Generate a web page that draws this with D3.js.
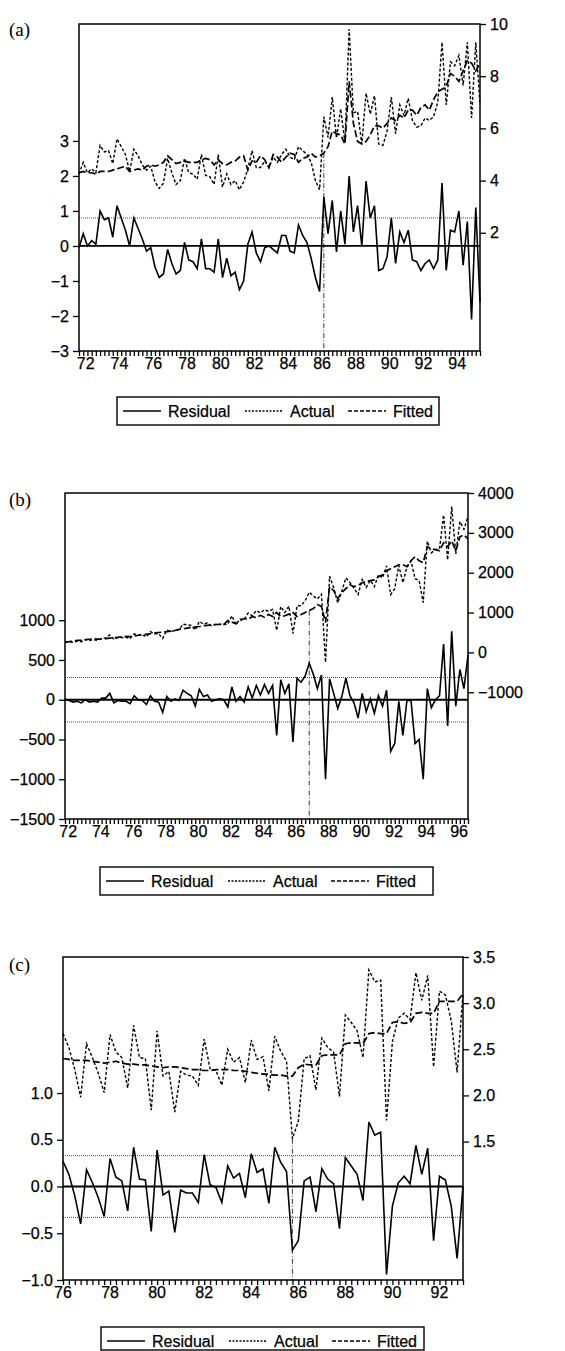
<!DOCTYPE html>
<html>
<head>
<meta charset="utf-8">
<script src="https://cdn.jsdelivr.net/npm/d3@7"></script>
<style>
  body { margin: 0; background: #fff; }
  svg text { font-family: "Liberation Sans", Arial, sans-serif; fill: #000; stroke: #000; stroke-width: 0.25px; }
  .tag { font-family: "Liberation Serif", "Times New Roman", serif; stroke-width: 0; }
</style>
</head>
<body>
<svg id="chart" width="565" height="1351"></svg>
<script>
// ---- data (quarterly) ----
// (a) 1972Q1 - 1995Q4
const residA = [-0.05,0.35,0.0,0.15,0.05,1.0,0.75,0.8,0.25,1.15,
  0.8,0.45,0.0,0.8,0.5,0.2,-0.15,-0.05,-0.6,-0.9,
  -0.8,-0.1,-0.5,-0.8,-0.7,0.1,-0.4,-0.45,-0.65,0.2,
  -0.65,-0.65,-0.75,0.2,-0.9,-0.35,-0.85,-0.75,-1.25,-1.0,
  0.05,0.4,-0.2,-0.45,-0.05,0.0,-0.1,-0.2,0.3,0.3,
  -0.15,-0.2,0.6,0.3,0.1,-0.35,-0.9,-1.3,1.4,0.35,
  1.3,-0.17,1.0,0.05,2.0,0.4,1.15,0.0,1.85,0.8,
  1.15,-0.7,-0.65,-0.3,0.8,-0.5,0.4,0.1,0.45,-0.4,
  -0.45,-0.7,-0.5,-0.4,-0.65,-0.4,1.8,-0.7,0.45,0.4,
  1.0,-0.55,0.7,-2.1,1.1,-1.6];
const actualA = [4.25,4.70,4.30,4.45,4.30,5.35,5.10,5.15,4.65,5.60,
  5.30,5.00,4.35,5.20,4.95,4.60,4.40,4.55,3.95,3.70,
  3.90,4.85,4.30,3.85,4.00,4.85,4.30,4.25,4.05,5.00,
  4.20,4.15,3.85,5.00,3.75,4.25,3.85,4.00,3.65,3.95,
  4.45,5.15,4.50,4.50,4.75,4.50,4.90,4.70,5.00,5.20,
  4.90,4.80,5.30,5.15,5.00,4.70,4.00,3.65,6.45,5.65,
  7.20,5.63,6.75,5.45,9.80,6.60,6.65,5.40,7.35,6.55,
  7.25,5.40,5.35,5.90,7.20,5.80,6.90,6.50,7.15,6.30,
  6.05,6.10,6.40,6.30,6.45,7.00,9.30,6.90,8.55,8.40,
  8.80,7.65,9.30,6.40,9.30,6.90];
const fittedA = [4.30,4.35,4.30,4.30,4.25,4.35,4.35,4.35,4.40,4.45,
  4.50,4.55,4.35,4.40,4.45,4.40,4.55,4.60,4.55,4.60,
  4.70,4.95,4.80,4.65,4.70,4.75,4.70,4.70,4.70,4.80,
  4.85,4.80,4.60,4.80,4.65,4.60,4.70,4.75,4.90,4.95,
  4.40,4.75,4.70,4.95,4.80,4.50,5.00,4.90,4.70,4.90,
  5.05,5.00,4.70,4.85,4.90,5.05,4.90,4.95,5.05,5.30,
  5.90,5.80,5.75,5.40,7.80,6.20,5.50,5.40,5.50,5.75,
  6.10,6.10,6.00,6.20,6.40,6.30,6.50,6.40,6.70,6.70,
  6.50,6.80,6.90,6.70,7.10,7.40,7.50,7.60,8.10,8.00,
  7.80,8.20,8.60,8.50,8.20,8.50];

// (b) 1972Q1 - 1996Q4
const residB = [10,-10,-30,-20,-40,0,-30,-20,-30,20,
  20,80,-40,-10,-20,-20,-50,50,0,-10,
  -60,50,-20,-30,-160,40,-20,10,-10,120,
  80,50,-80,130,40,60,-20,0,10,0,
  -90,160,-20,40,-30,160,20,180,60,190,
  80,180,-450,250,80,200,-530,270,220,300,
  460,320,140,310,-1000,260,80,-110,40,270,
  50,-40,-230,80,-150,10,-170,50,-80,120,
  -650,-550,-20,-450,-10,-10,-550,-500,-1000,140,
  -100,0,50,700,-330,860,-80,380,140,560];
const actualB = [270,260,255,280,265,320,300,320,305,350,
  365,440,330,370,370,380,345,465,430,440,
  395,520,470,470,350,560,515,560,570,710,
  690,680,560,780,710,740,670,700,710,700,
  710,920,700,840,820,990,920,1050,990,1070,
  1030,1080,550,1150,1000,1160,470,1170,1170,1300,
  1510,1420,1340,1460,-250,1910,1630,1240,1540,1870,
  1750,1610,1450,1830,1630,1810,1650,1950,1870,2170,
  1450,1600,2180,1750,2140,2290,1850,1800,1250,2790,
  2500,2580,2600,3450,2320,3660,2470,3280,3090,3410];
const fittedB = [260,270,285,300,305,320,330,340,335,330,
  345,360,370,380,390,400,395,415,430,450,
  455,470,490,500,510,520,535,550,580,590,
  610,630,640,650,670,680,690,700,700,700,
  800,760,720,800,850,830,900,870,930,880,
  950,900,1000,900,920,960,1000,900,950,1000,
  1050,1100,1200,1150,750,1650,1550,1350,1500,1600,
  1700,1650,1680,1750,1780,1800,1820,1900,1950,2050,
  2100,2150,2200,2200,2150,2300,2400,2300,2250,2650,
  2600,2580,2550,2750,2650,2800,2550,2900,2950,2850];

// (c) 1976Q1 - 1993Q1
const residC = [0.27,0.13,-0.10,-0.40,0.18,0.04,-0.12,-0.32,0.30,0.10,
  0.06,-0.26,0.42,0.08,0.07,-0.48,0.39,-0.09,-0.05,-0.49,
  -0.04,-0.07,-0.07,-0.17,0.34,0.02,-0.01,-0.17,0.22,0.09,
  0.14,-0.12,0.35,0.15,0.19,-0.18,0.42,0.26,0.16,-0.68,
  -0.58,0.06,0.10,-0.27,0.19,0.08,0.03,-0.45,0.31,0.22,
  0.13,-0.15,0.69,0.55,0.58,-0.94,-0.21,0.04,0.11,0.03,
  0.44,0.13,0.41,-0.58,0.11,0.07,-0.21,-0.77,0.01];
const actualC = [2.67,2.52,2.28,1.98,2.56,2.41,2.24,2.03,2.66,2.47,
  2.41,2.08,2.76,2.41,2.40,1.84,2.70,2.21,2.26,1.82,
  2.26,2.22,2.21,2.11,2.61,2.29,2.27,2.11,2.50,2.36,
  2.41,2.14,2.60,2.39,2.42,2.05,2.64,2.48,2.37,1.53,
  1.72,2.40,2.43,2.06,2.62,2.52,2.47,1.99,2.87,2.79,
  2.70,2.41,3.36,3.23,3.25,1.73,2.58,2.84,2.89,2.82,
  3.33,3.03,3.30,2.31,3.13,3.09,2.81,2.25,3.11];
const fittedC = [2.40,2.39,2.38,2.38,2.38,2.37,2.36,2.35,2.36,2.37,
  2.35,2.34,2.34,2.33,2.33,2.32,2.31,2.30,2.31,2.31,
  2.30,2.29,2.28,2.28,2.27,2.27,2.28,2.28,2.28,2.27,
  2.27,2.26,2.25,2.24,2.23,2.23,2.22,2.22,2.21,2.21,
  2.30,2.34,2.33,2.33,2.43,2.44,2.44,2.44,2.56,2.57,
  2.57,2.56,2.67,2.68,2.67,2.67,2.79,2.80,2.78,2.79,
  2.89,2.90,2.89,2.89,3.02,3.02,3.02,3.02,3.10];

const seA = [0.8];
const seB = [280, -280];
const seC = [0.33, -0.33];

// ---- layout of the three panels ----
const panels = [
  { tag: '(a)', tagY: 36, start: 1972, res: residA, act: actualA, fit: fittedA,
    x0: 79, x1: 480, y0: 24, y1: 351,
    left: [-3, 6.34], right: [-2.53, 10],
    leftTicks: [-3, -2, -1, 0, 1, 2, 3], rightTicks: [2, 4, 6, 8, 10],
    fmt: d3.format('d'), fmtR: d3.format('d'),
    years: d3.range(1972, 1996, 2), shift: 0.4, se: seA, mark: 58,
    legend: { x: 117, y: 397, w: 322, h: 28 } },
  { tag: '(b)', tagY: 506, start: 1972, res: residB, act: actualB, fit: fittedB,
    x0: 65, x1: 468, y0: 493, y1: 819,
    left: [-1500, 2600], right: [-4180, 4000],
    leftTicks: [-1500, -1000, -500, 0, 500, 1000], rightTicks: [-1000, 0, 1000, 2000, 3000, 4000],
    fmt: d3.format('d'), fmtR: d3.format('d'),
    years: d3.range(1972, 1997, 2), shift: 0.2, se: seB, mark: 60,
    legend: { x: 100, y: 867, w: 333, h: 28 } },
  { tag: '(c)', tagY: 971, start: 1976, res: residC, act: actualC, fit: fittedC,
    x0: 63, x1: 463, y0: 957, y1: 1280,
    left: [-1, 2.455], right: [0, 3.5],
    leftTicks: [-1, -0.5, 0, 0.5, 1], rightTicks: [1.5, 2, 2.5, 3, 3.5],
    fmt: d3.format('.1f'), fmtR: d3.format('.1f'),
    years: d3.range(1976, 1993, 2), shift: 0, se: seC, mark: 39,
    legend: { x: 101, y: 1327, w: 323, h: 23 } }
];

const svg = d3.select('#chart');

panels.forEach(function(p) {
  const n = p.res.length;
  const x = d3.scaleLinear().domain([p.start, p.start + (n - 1) / 4]).range([p.x0, p.x1]);
  const yL = d3.scaleLinear().domain(p.left).range([p.y1, p.y0]);
  const yR = d3.scaleLinear().domain(p.right).range([p.y1, p.y0]);
  const t = function(i) { return x(p.start + i / 4); };
  const g = svg.append('g');

  // panel tag
  g.append('text').attr('class', 'tag').attr('x', 9).attr('y', p.tagY)
    .attr('font-size', 19).text(p.tag);

  // +/- one s.e. dotted lines
  p.se.forEach(function(v) {
    g.append('line').attr('x1', p.x0).attr('x2', p.x1)
      .attr('y1', yL(v)).attr('y2', yL(v))
      .attr('stroke', '#333').attr('stroke-width', 0.9).attr('stroke-dasharray', '1,1');
  });

  // vertical break marker
  const mv = Math.min(p.act[p.mark], p.fit[p.mark]);
  g.append('line').attr('x1', t(p.mark)).attr('x2', t(p.mark))
    .attr('y1', yR(mv)).attr('y2', p.y1)
    .attr('stroke', '#222').attr('stroke-width', 0.9).attr('stroke-dasharray', '5,2,1,2');

  // zero line
  g.append('line').attr('x1', p.x0).attr('x2', p.x1)
    .attr('y1', yL(0)).attr('y2', yL(0))
    .attr('stroke', '#000').attr('stroke-width', 1.8);

  const lineL = d3.line().x(function(d, i) { return t(i); }).y(function(d) { return yL(d); });
  const lineR = d3.line().x(function(d, i) { return t(i); }).y(function(d) { return yR(d); });

  g.append('path').attr('d', lineR(p.fit)).attr('fill', 'none')
    .attr('stroke', '#000').attr('stroke-width', 1.7).attr('stroke-dasharray', '7,3');
  g.append('path').attr('d', lineR(p.act)).attr('fill', 'none')
    .attr('stroke', '#000').attr('stroke-width', 1.4).attr('stroke-dasharray', '3,2');
  g.append('path').attr('d', lineL(p.res)).attr('fill', 'none')
    .attr('stroke', '#000').attr('stroke-width', 1.6).attr('stroke-linejoin', 'miter');

  // frame
  g.append('rect').attr('x', p.x0).attr('y', p.y0)
    .attr('width', p.x1 - p.x0).attr('height', p.y1 - p.y0)
    .attr('fill', 'none').attr('stroke', '#000').attr('stroke-width', 1.5);

  // axes
  const ax = g.append('g').attr('transform', 'translate(' + p.x0 + ',0)')
    .call(d3.axisLeft(yL).tickValues(p.leftTicks).tickSize(6).tickPadding(4).tickFormat(p.fmt));
  const axr = g.append('g').attr('transform', 'translate(' + p.x1 + ',0)')
    .call(d3.axisRight(yR).tickValues(p.rightTicks).tickSize(6).tickPadding(4).tickFormat(p.fmtR));
  const quarters = d3.range(n).map(function(i) { return p.start + i / 4; });
  const axb = g.append('g').attr('transform', 'translate(0,' + p.y1 + ')')
    .call(d3.axisBottom(x).tickValues(quarters).tickSize(5).tickFormat(''));
  [ax, axr, axb].forEach(function(a) {
    a.select('.domain').remove();
    a.selectAll('.tick line').attr('stroke', '#000').attr('stroke-width', 1.3);
    a.selectAll('text').attr('font-size', 16).attr('font-family', '"Liberation Sans", Arial, sans-serif');
  });

  // year labels
  g.selectAll('.yr').data(p.years).enter().append('text')
    .attr('x', function(d) { return x(d + p.shift); })
    .attr('y', p.y1 + 18).attr('text-anchor', 'middle').attr('font-size', 16)
    .text(function(d) { return String(d).slice(2); });

  // legend
  const L = p.legend;
  const lg = g.append('g').attr('transform', 'translate(' + L.x + ',' + L.y + ')');
  lg.append('rect').attr('width', L.w).attr('height', L.h)
    .attr('fill', 'none').attr('stroke', '#000').attr('stroke-width', 1.4);
  const items = [
    { name: 'Residual', dash: null, sw: 1.5, lx: 6 },
    { name: 'Actual', dash: '2,1.5', sw: 1.3, lx: 128 },
    { name: 'Fitted', dash: '4,2', sw: 1.5, lx: 231 }
  ];
  items.forEach(function(it) {
    lg.append('line').attr('x1', it.lx).attr('x2', it.lx + 38)
      .attr('y1', 14).attr('y2', 14).attr('stroke', '#000')
      .attr('stroke-width', it.sw).attr('stroke-dasharray', it.dash);
    lg.append('text').attr('x', it.lx + 45).attr('y', 19.5)
      .attr('font-size', 16).text(it.name);
  });
});
</script>
</body>
</html>
